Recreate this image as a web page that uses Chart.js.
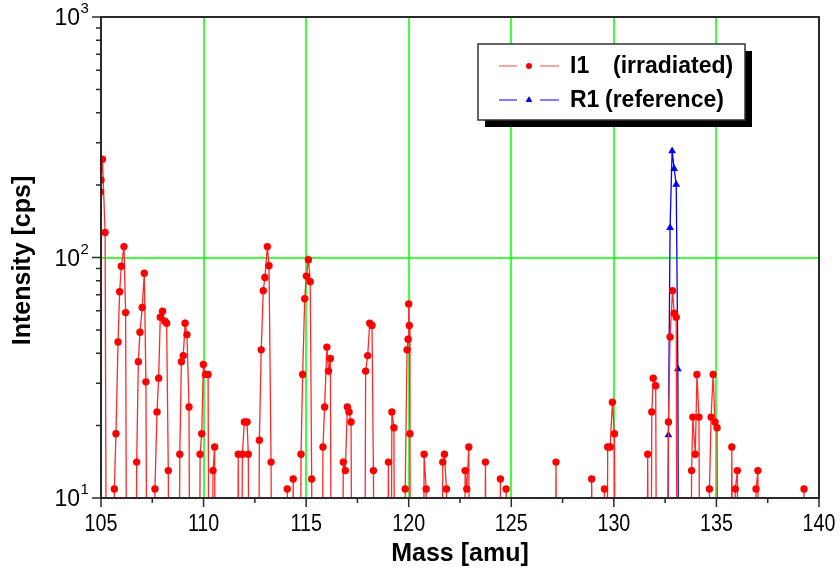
<!DOCTYPE html>
<html>
<head>
<meta charset="utf-8">
<script src="https://cdn.jsdelivr.net/npm/chart.js@4.4.1/dist/chart.umd.min.js"></script>
<style>
  html, body { margin: 0; padding: 0; background: #fff; }
  #wrap { width: 840px; height: 579px; }
</style>
</head>
<body>
<div id="wrap"><canvas id="massChart" width="840" height="579"></canvas></div>
<script>
// I1 (irradiated) - mass [amu], one line per peak group; 1 cps = below the axis
const i1Mass = [
  104.97, 105.00, 105.07, 105.20, 105.28,
  105.60, 105.65, 105.73, 105.83, 105.91, 105.99, 106.12, 106.20, 106.27,
  106.68, 106.74, 106.82, 106.90, 107.01, 107.11, 107.19, 107.26,
  107.58, 107.63, 107.73, 107.81, 107.89, 108.00, 108.11, 108.20, 108.28, 108.34,
  108.78, 108.84, 108.92, 109.01, 109.10, 109.19, 109.29, 109.35,
  109.78, 109.83, 109.91, 109.99, 110.10, 110.22, 110.28,
  110.41, 110.46, 110.54, 110.60,
  111.64, 111.69, 111.76, 111.83, 111.89, 111.99, 112.12, 112.18, 112.24,
  112.66, 112.72, 112.81, 112.91, 112.99, 113.11, 113.19, 113.29, 113.35,
  114.02, 114.08, 114.14,
  114.31, 114.37, 114.43,
  114.70, 114.75, 114.83, 114.93, 115.01, 115.11, 115.20, 115.27, 115.33,
  115.76, 115.82, 115.90, 116.01, 116.09, 116.18, 116.25,
  116.75, 116.81, 116.91, 117.01, 117.09, 117.19, 117.25,
  117.84, 117.90, 118.00, 118.10, 118.21, 118.28, 118.34,
  118.95, 119.01, 119.07, 119.12, 119.18, 119.28, 119.33,
  119.78, 119.83, 119.92, 119.97, 120.00, 120.03, 120.06, 120.10,
  120.70, 120.75, 120.85, 120.90,
  121.60, 121.66, 121.74, 121.84, 121.90,
  122.70, 122.75, 122.83, 122.93, 122.99,
  123.68, 123.74, 123.80,
  124.41, 124.47, 124.53,
  124.69, 124.75, 124.81,
  127.12, 127.18, 127.24,
  128.86, 128.92, 128.98,
  129.49, 129.54, 129.60, 129.64, 129.70, 129.82, 129.93, 130.03, 130.09,
  131.60, 131.65, 131.71, 131.79, 131.85, 131.92, 132.04, 132.10,
  132.60, 132.66, 132.74, 132.86, 132.94, 133.04, 133.10,
  133.73, 133.79, 133.85, 133.97, 134.05, 134.15, 134.21,
  134.60, 134.66, 134.74, 134.84, 134.93, 135.03, 135.09,
  135.69, 135.75, 135.81, 135.86, 135.92, 136.02, 136.08,
  136.87, 136.93, 137.02, 137.08,
  139.21, 139.27, 139.33
];
// I1 intensity [cps]
const i1Cps = [
  187, 210, 256, 127, 1,
  1, 10.9, 18.5, 44.5, 72, 92, 111, 59, 1,
  1, 14.1, 36.9, 48.9, 62, 86, 30.4, 1,
  1, 10.9, 22.8, 31.5, 56.5, 59.8, 54.3, 53.3, 13.0, 1,
  1, 15.2, 36.9, 39.1, 53.3, 47.8, 23.9, 1,
  1, 15.2, 18.5, 35.9, 32.6, 32.6, 1,
  1, 13.0, 16.3, 1,
  1, 15.2, 1, 1, 15.2, 20.7, 20.7, 15.2, 1,
  1, 17.4, 41.3, 72.8, 82.6, 111, 92.4, 14.1, 1,
  1, 10.9, 1,
  1, 12.0, 1,
  1, 15.2, 32.6, 67.4, 83.7, 97.8, 79.3, 12.0, 1,
  1, 16.3, 23.9, 42.4, 33.7, 38.0, 1,
  1, 14.1, 13.0, 23.9, 22.8, 20.7, 1,
  1, 33.7, 39.1, 53.3, 52.2, 13.0, 1,
  1, 14.1, 1, 1, 22.8, 19.6, 1,
  1, 10.9, 41.3, 45.7, 64.1, 52.2, 18.5, 1,
  1, 15.2, 10.9, 1,
  1, 14.1, 15.2, 10.9, 1,
  1, 13.0, 10.9, 16.3, 1,
  1, 14.1, 1,
  1, 12.0, 1,
  1, 10.9, 1,
  1, 14.1, 1,
  1, 12.0, 1,
  1, 10.9, 1, 1, 16.3, 16.3, 25.0, 18.5, 1,
  1, 15.2, 1, 1, 22.8, 31.5, 29.3, 1,
  1, 20.7, 46.7, 72.8, 58.7, 56.5, 1,
  1, 13.0, 21.7, 15.2, 32.6, 21.7, 1,
  1, 10.9, 21.7, 32.6, 20.7, 19.6, 1,
  1, 16.3, 1, 1, 10.9, 13.0, 1,
  1, 10.9, 13.0, 1,
  1, 10.9, 1
];

// R1 (reference)
const r1Mass = [132.60, 132.66, 132.74, 132.84, 132.94, 133.04, 133.12, 133.17];
const r1Cps = [1, 18.3, 133, 277, 234, 201, 34.4, 1];

// axes
const xTickLabels = ['105', '110', '115', '120', '125', '130', '135', '140'];
const yTickValues = [10, 100, 1000];
const yTickExps = ['1', '2', '3'];

const toPoints = (xs, ys) => xs.slice(0, Math.min(xs.length, ys.length)).map((m, i) => ({ x: m, y: ys[i] }));

const FONT = '"Liberation Sans", Arial, sans-serif';

// bright green grid at the inner major ticks, under the data
const greenGrid = {
  id: 'greenGrid',
  beforeDatasetsDraw(chart) {
    const { ctx, chartArea: a, scales: { x, y } } = chart;
    ctx.save();
    ctx.strokeStyle = '#00ff00';
    ctx.lineWidth = 1.5;
    ctx.beginPath();
    xTickLabels.slice(1, -1).forEach(t => {
      const px = Math.round(x.getPixelForValue(Number(t)));
      ctx.moveTo(px, a.top); ctx.lineTo(px, a.bottom);
    });
    yTickValues.slice(1, -1).forEach(v => {
      const py = Math.round(y.getPixelForValue(v));
      ctx.moveTo(a.left, py); ctx.lineTo(a.right, py);
    });
    ctx.stroke();
    ctx.restore();
  }
};

// frame, outward ticks, labels, titles and the boxed legend (Origin style)
const originFrame = {
  id: 'originFrame',
  afterDraw(chart) {
    const { ctx, chartArea: a, scales: { x, y } } = chart;
    ctx.save();

    ctx.strokeStyle = '#2a2a2a';
    ctx.lineWidth = 2;
    ctx.strokeRect(a.left, a.top, a.right - a.left, a.bottom - a.top);

    // ticks
    ctx.lineWidth = 1.5;
    ctx.beginPath();
    const xMajors = xTickLabels.map(Number);
    xMajors.forEach((v, i) => {
      let px = x.getPixelForValue(v);
      ctx.moveTo(px, a.bottom); ctx.lineTo(px, a.bottom + 9);
      if (i < xMajors.length - 1) {
        px = x.getPixelForValue(v + 2.5);
        ctx.moveTo(px, a.bottom); ctx.lineTo(px, a.bottom + 5);
      }
    });
    yTickValues.forEach((v, i) => {
      const py = y.getPixelForValue(v);
      ctx.moveTo(a.left - 9, py); ctx.lineTo(a.left, py);
      if (i < yTickValues.length - 1) {
        for (let m = 2; m <= 9; m++) {
          const pm = y.getPixelForValue(v * m);
          ctx.moveTo(a.left - 5, pm); ctx.lineTo(a.left, pm);
        }
      }
    });
    ctx.stroke();

    // tick labels (slightly condensed, like the original export)
    ctx.fillStyle = '#000';
    ctx.font = '24px ' + FONT;
    ctx.textAlign = 'center';
    ctx.textBaseline = 'top';
    xTickLabels.forEach(t => {
      ctx.save();
      ctx.translate(x.getPixelForValue(Number(t)), a.bottom + 14);
      ctx.scale(0.82, 1);
      ctx.fillText(t, 0, 0);
      ctx.restore();
    });

    yTickValues.forEach((v, i) => {
      const py = y.getPixelForValue(v);
      ctx.font = '23px ' + FONT;
      ctx.textAlign = 'right';
      ctx.textBaseline = 'middle';
      ctx.fillText('10', 80, py + 2);
      ctx.font = '15px ' + FONT;
      ctx.textAlign = 'left';
      ctx.fillText(yTickExps[i], 80.5, py - 8);
    });

    // axis titles
    ctx.font = 'bold 25px ' + FONT;
    ctx.textAlign = 'center';
    ctx.textBaseline = 'middle';
    ctx.fillText('Mass [amu]', (a.left + a.right) / 2, 554);
    ctx.save();
    ctx.translate(23, (a.top + a.bottom) / 2 + 3);
    ctx.rotate(-Math.PI / 2);
    ctx.fillText('Intensity [cps]', 0, 0);
    ctx.restore();

    // legend box with shadow
    const lx = 478, ly = 44, lw = 267, lh = 76;
    ctx.fillStyle = '#000';
    ctx.fillRect(lx + 7, ly + 7, lw, lh);
    ctx.fillStyle = '#fff';
    ctx.fillRect(lx, ly, lw, lh);
    ctx.strokeStyle = '#333';
    ctx.lineWidth = 1.5;
    ctx.strokeRect(lx, ly, lw, lh);

    const rows = [
      { y: ly + 22, line: '#ff4a4a', mark: '#ff0000', style: 'circle', a: 'I1', b: '(irradiated)', bx: 613 },
      { y: ly + 56, line: '#0000ff', mark: '#0000ff', style: 'triangle', a: 'R1', b: '(reference)', bx: 605 }
    ];
    rows.forEach(r => {
      ctx.strokeStyle = r.line;
      ctx.lineWidth = 1.2;
      ctx.beginPath();
      ctx.moveTo(499, r.y); ctx.lineTo(517, r.y);
      ctx.moveTo(540, r.y); ctx.lineTo(559, r.y);
      ctx.stroke();
      Chart.helpers.drawPoint(ctx, { pointStyle: r.style, radius: r.style === 'circle' ? 3 : 3.6, borderWidth: 0 }, 529, r.y);
      ctx.fillStyle = r.mark;
      ctx.fill();
      ctx.fillStyle = '#000';
      ctx.font = 'bold 23px ' + FONT;
      ctx.textAlign = 'left';
      ctx.textBaseline = 'middle';
      ctx.fillText(r.a, 570, r.y + 1);
      ctx.fillText(r.b, r.bx, r.y + 1);
    });

    ctx.restore();
  }
};

const lowHidden = c => (c.raw && c.raw.y < 10 ? 0 : undefined);

new Chart(document.getElementById('massChart'), {
  type: 'line',
  data: {
    datasets: [
      {
        label: 'I1 (irradiated)',
        data: toPoints(i1Mass, i1Cps),
        borderColor: '#ff2a2a',
        borderWidth: 1.3,
        pointStyle: 'circle',
        pointRadius: c => lowHidden(c) ?? 3.7,
        pointBackgroundColor: '#ff0000',
        pointBorderWidth: 0,
        tension: 0
      },
      {
        label: 'R1 (reference)',
        data: toPoints(r1Mass, r1Cps),
        borderColor: '#0000ff',
        borderWidth: 1.3,
        pointStyle: 'triangle',
        pointRadius: c => lowHidden(c) ?? 4.5,
        pointBackgroundColor: '#0000ff',
        pointBorderWidth: 0,
        tension: 0
      }
    ]
  },
  options: {
    responsive: false,
    animation: false,
    events: [],
    layout: { padding: { top: 17, right: 21, left: 0, bottom: 0 } },
    plugins: { legend: { display: false }, tooltip: { enabled: false } },
    scales: {
      x: {
        type: 'linear',
        min: 105,
        max: 140,
        ticks: { display: false, stepSize: 2.5 },
        border: { display: false },
        grid: { display: false },
        afterFit: s => { s.height = 81; }
      },
      y: {
        type: 'logarithmic',
        min: 10,
        max: 1000,
        ticks: { display: false },
        border: { display: false },
        grid: { display: false },
        afterFit: s => { s.width = 101; }
      }
    }
  },
  plugins: [greenGrid, originFrame]
});
</script>
</body>
</html>
